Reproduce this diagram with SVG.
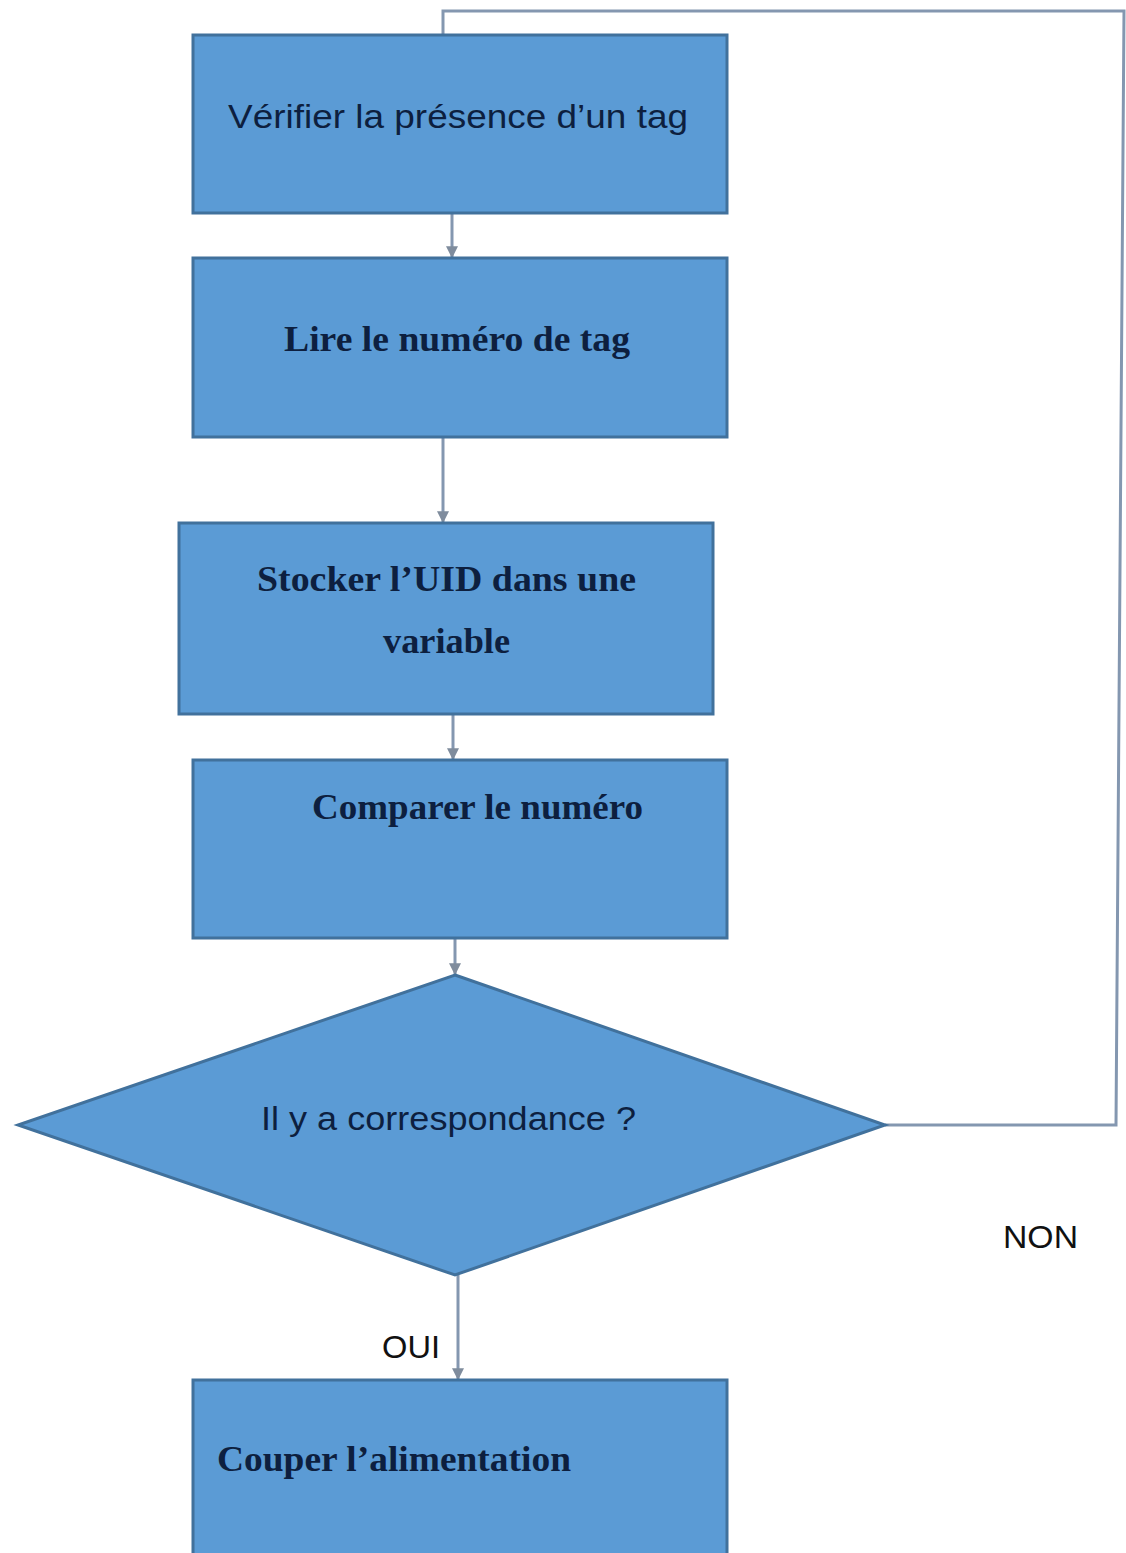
<svg xmlns="http://www.w3.org/2000/svg" width="1126" height="1553" viewBox="0 0 1126 1553">
  <style>
    .box { fill: #5b9bd5; stroke: #41719c; stroke-width: 3; }
    .link { fill: none; stroke: #8497b0; stroke-width: 3; }
    .sans { font-family: "Liberation Sans", Arial, sans-serif; fill: #0d1f3f; font-size: 33px; }
    .serif { font-family: "Liberation Serif", "Times New Roman", serif; font-weight: bold; fill: #0d1f3f; font-size: 35px; }
    .label { font-family: "Liberation Sans", Arial, sans-serif; fill: #111111; font-size: 32px; }
  </style>
  <defs>
    <marker id="arrow" viewBox="0 0 10 10" refX="9" refY="5" markerWidth="4" markerHeight="4" orient="auto">
      <path d="M0,0 L10,5 L0,10 z" fill="#7f8c9d"/>
    </marker>
  </defs>

  <!-- connectors -->
  <g id="connectors">
    <path class="link" d="M452,213 V257" marker-end="url(#arrow)"/>
    <path class="link" d="M443,437 V522" marker-end="url(#arrow)"/>
    <path class="link" d="M453,714 V759" marker-end="url(#arrow)"/>
    <path class="link" d="M455,938 V974" marker-end="url(#arrow)"/>
    <path class="link" d="M458,1275 V1379" marker-end="url(#arrow)"/>
    <!-- NON loop back to the first step -->
    <path class="link" d="M885,1125 H1116 L1124,11 H443 V34"/>
  </g>

  <g id="node-verifier">
    <rect class="box" x="193" y="35" width="534" height="178"/>
    <text class="sans" x="228" y="128" textLength="460" lengthAdjust="spacingAndGlyphs">Vérifier la présence d’un tag</text>
  </g>

  <g id="node-lire">
    <rect class="box" x="193" y="258" width="534" height="179"/>
    <text class="serif" x="284" y="351" textLength="346" lengthAdjust="spacingAndGlyphs">Lire le numéro de tag</text>
  </g>

  <g id="node-stocker">
    <rect class="box" x="179" y="523" width="534" height="191"/>
    <text class="serif" x="257" y="591" textLength="379" lengthAdjust="spacingAndGlyphs">Stocker l’UID dans une</text>
    <text class="serif" x="383" y="653" textLength="127" lengthAdjust="spacingAndGlyphs">variable</text>
  </g>

  <g id="node-comparer">
    <rect class="box" x="193" y="760" width="534" height="178"/>
    <text class="serif" x="312" y="819" textLength="331" lengthAdjust="spacingAndGlyphs">Comparer le numéro</text>
  </g>

  <g id="node-decision">
    <polygon class="box" points="455,975 885,1125 455,1275 18,1125"/>
    <text class="sans" x="261" y="1130" textLength="375" lengthAdjust="spacingAndGlyphs">Il y a correspondance ?</text>
  </g>

  <g id="node-couper">
    <rect class="box" x="193" y="1380" width="534" height="190"/>
    <text class="serif" x="217" y="1471" textLength="354" lengthAdjust="spacingAndGlyphs">Couper l’alimentation</text>
  </g>

  <text class="label" x="382" y="1358" textLength="58" lengthAdjust="spacingAndGlyphs">OUI</text>
  <text class="label" x="1003" y="1248" textLength="75" lengthAdjust="spacingAndGlyphs">NON</text>
</svg>
